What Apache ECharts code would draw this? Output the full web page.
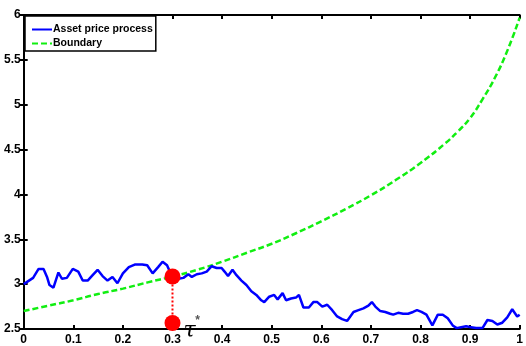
<!DOCTYPE html>
<html>
<head>
<meta charset="utf-8">
<script src="https://cdn.jsdelivr.net/npm/echarts@6/dist/echarts.min.js"></script>
<style>
  html, body { margin: 0; padding: 0; background: #fff; }
  #chart { width: 526px; height: 346px; }
</style>
</head>
<body>
<div id="chart"></div>
<script>
// Simulated asset price path (time, price)
const pathTimes = [
  0.000, 0.019, 0.030, 0.040, 0.047, 0.052, 0.060, 0.070, 0.077, 0.087,
  0.099, 0.110, 0.119, 0.129, 0.139, 0.149, 0.159, 0.169, 0.179, 0.189,
  0.200, 0.212, 0.225, 0.239, 0.249, 0.260, 0.271, 0.280, 0.289, 0.293,
  0.300, 0.312, 0.322, 0.332, 0.339, 0.349, 0.359, 0.369, 0.379, 0.389,
  0.399, 0.405, 0.412, 0.421, 0.429, 0.439, 0.449, 0.459, 0.469, 0.479,
  0.485, 0.495, 0.505, 0.512, 0.522, 0.529, 0.539, 0.549, 0.555, 0.564,
  0.575, 0.584, 0.592, 0.602, 0.612, 0.622, 0.632, 0.642, 0.652, 0.665,
  0.675, 0.685, 0.695, 0.702, 0.709, 0.719, 0.729, 0.739, 0.745, 0.755,
  0.765, 0.775, 0.785, 0.793, 0.802, 0.812, 0.824, 0.835, 0.845, 0.855,
  0.865, 0.873, 0.882, 0.892, 0.902, 0.912, 0.925, 0.935, 0.945, 0.955,
  0.965, 0.975, 0.985, 0.995, 1.000
];
const pathPrices = [
  3.00, 3.07, 3.17, 3.17, 3.08, 2.99, 2.96, 3.13, 3.06, 3.07,
  3.17, 3.14, 3.04, 3.04, 3.10, 3.16, 3.09, 3.04, 3.08, 3.01,
  3.12, 3.19, 3.22, 3.22, 3.21, 3.12, 3.19, 3.25, 3.21, 3.16,
  3.085, 3.06, 3.07, 3.11, 3.08, 3.11, 3.12, 3.14, 3.20, 3.18,
  3.18, 3.14, 3.09, 3.16, 3.10, 3.04, 2.99, 2.92, 2.88, 2.82,
  2.80, 2.86, 2.88, 2.83, 2.90, 2.82, 2.84, 2.85, 2.88, 2.74,
  2.74, 2.80, 2.80, 2.75, 2.77, 2.71, 2.64, 2.61, 2.59, 2.69,
  2.71, 2.73, 2.76, 2.80, 2.75, 2.70, 2.69, 2.67, 2.66, 2.68,
  2.67, 2.67, 2.69, 2.71, 2.69, 2.66, 2.54, 2.66, 2.66, 2.62,
  2.54, 2.51, 2.52, 2.53, 2.52, 2.51, 2.51, 2.60, 2.59, 2.55,
  2.57, 2.63, 2.72, 2.64, 2.66
];

// Exercise boundary
const boundaryTimes = [
  0.00, 0.05, 0.10, 0.15, 0.20, 0.25, 0.30, 0.35, 0.40, 0.45, 0.50,
  0.55, 0.60, 0.65, 0.70, 0.75, 0.80, 0.85, 0.875, 0.90, 0.925, 0.95, 0.975, 1.00
];
const boundaryValues = [
  2.70, 2.76, 2.82, 2.89, 2.95, 3.02, 3.085, 3.16, 3.25, 3.35, 3.45,
  3.57, 3.70, 3.84, 3.99, 4.16, 4.35, 4.57, 4.70, 4.85, 5.06, 5.30, 5.60, 5.97
];

// First hitting time and the matching price
const stopTime = 0.3;
const stopPrice = 3.085;
const stopFloor = 2.567;

const xTicks = { min: 0, max: 1, interval: 0.1 };
const yTicks = { min: 2.5, max: 6, interval: 0.5 };

const zip = (a, b) => a.map((v, i) => [v, b[i]]);

const FONT = "'Liberation Sans', Arial, sans-serif";
const labelStyle = { color: '#000', fontWeight: 'bold', fontSize: 12, fontFamily: FONT };
const frameLine = { show: true, lineStyle: { color: '#000', width: 2 } };
const innerTick = { show: true, inside: true, length: 4, lineStyle: { color: '#000', width: 2 } };

const chart = echarts.init(document.getElementById('chart'), null, { renderer: 'canvas' });

chart.setOption({
  animation: false,
  backgroundColor: '#fff',
  grid: { left: 23.7, right: 1.8, top: 15, bottom: 15.3, containLabel: false },
  legend: {
    orient: 'vertical',
    left: 25, top: 16,
    padding: [8, 3, 2, 6],
    itemGap: 3,
    itemWidth: 20,
    itemHeight: 12,
    backgroundColor: '#fff',
    borderColor: '#000',
    borderWidth: 1.5,
    borderRadius: 0,
    itemStyle: { color: 'rgba(0,0,0,0)', borderWidth: 0, opacity: 0 },
    textStyle: Object.assign({}, labelStyle, { fontSize: 10.5, padding: [0, 0, 0, -4] }),
    data: ['Asset price process', 'Boundary']
  },
  xAxis: [
    {
      type: 'value', position: 'bottom',
      min: xTicks.min, max: xTicks.max, interval: xTicks.interval,
      axisLine: frameLine, axisTick: innerTick, splitLine: { show: false },
      axisLabel: Object.assign({ margin: 5, formatter: v => String(+v.toFixed(1)) }, labelStyle)
    },
    {
      type: 'value', position: 'top',
      min: xTicks.min, max: xTicks.max, interval: xTicks.interval,
      axisLine: frameLine, axisTick: innerTick, splitLine: { show: false },
      axisLabel: { show: false }
    }
  ],
  yAxis: [
    {
      type: 'value', position: 'left',
      min: yTicks.min, max: yTicks.max, interval: yTicks.interval,
      axisLine: frameLine, axisTick: innerTick, splitLine: { show: false },
      axisLabel: Object.assign({ margin: 3 }, labelStyle)
    },
    {
      type: 'value', position: 'right',
      min: yTicks.min, max: yTicks.max, interval: yTicks.interval,
      axisLine: frameLine, axisTick: innerTick, splitLine: { show: false },
      axisLabel: { show: false }
    }
  ],
  series: [
    {
      name: 'Asset price process',
      type: 'line',
      data: zip(pathTimes, pathPrices),
      symbol: 'none',
      color: '#0000ff',
      lineStyle: { color: '#0000ff', width: 2.5 },
      z: 3
    },
    {
      name: 'Boundary',
      type: 'line',
      data: zip(boundaryTimes, boundaryValues),
      smooth: 0.5,
      symbol: 'none',
      color: '#11ee11',
      lineStyle: { color: '#11ee11', width: 2.5, type: [6, 3] },
      z: 2
    },
    {
      name: 'stop-link',
      type: 'line',
      data: [[stopTime, stopPrice], [stopTime, stopFloor]],
      symbol: 'none',
      lineStyle: { color: '#ff0000', width: 2, type: [2, 2] },
      z: 4,
      silent: true
    },
    {
      name: 'stop-points',
      type: 'scatter',
      data: [[stopTime, stopPrice], [stopTime, stopFloor]],
      symbolSize: 16,
      itemStyle: { color: '#ff0000', opacity: 1 },
      clip: false,
      z: 5,
      silent: true
    }
  ]
});

// τ* annotation next to the lower stopping marker
const anchor = chart.convertToPixel({ xAxisIndex: 0, yAxisIndex: 0 }, [stopTime, yTicks.min]);
chart.setOption({
  graphic: [
    {
      type: 'text',
      x: anchor[0] + 17, y: anchor[1] + 2,
      style: {
        text: 'τ', fill: '#000',
        font: "italic 22px 'DejaVu Serif', 'Liberation Serif', serif",
        align: 'center', verticalAlign: 'middle'
      },
      z: 10
    },
    {
      type: 'text',
      x: anchor[0] + 25, y: anchor[1] - 8,
      style: {
        text: '*', fill: '#555',
        font: "bold 12px 'Liberation Sans', Arial, sans-serif",
        align: 'center', verticalAlign: 'middle'
      },
      z: 10
    }
  ]
});
</script>
</body>
</html>
